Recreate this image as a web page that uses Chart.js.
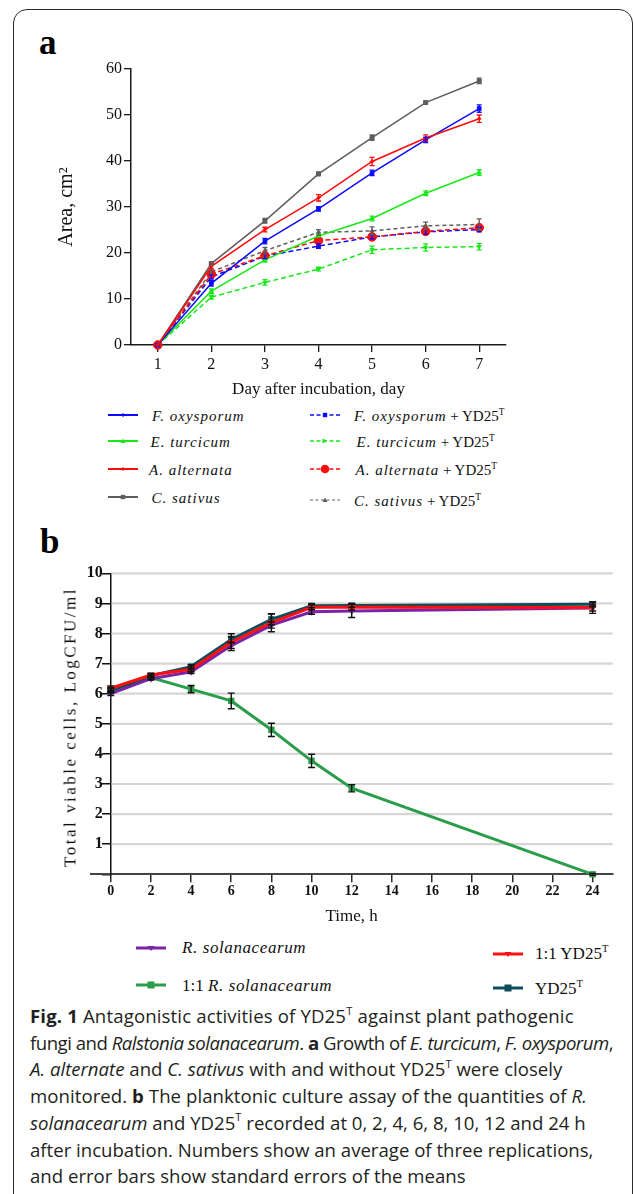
<!DOCTYPE html>
<html>
<head>
<meta charset="utf-8">
<script src="https://cdn.jsdelivr.net/npm/chart.js@4.4.1/dist/chart.umd.min.js"></script>
<style>
html,body{margin:0;padding:0;background:#fff;}
body{width:633px;height:1194px;position:relative;overflow:hidden;}
#frame{position:absolute;left:13px;top:9px;width:620px;height:1240px;border:1.6px solid #2b2b2b;border-radius:14px;box-sizing:border-box;}
.panel{position:absolute;font-family:"Liberation Serif",serif;font-weight:bold;font-size:35px;line-height:1;color:#000;}
canvas{position:absolute;left:0;}
.lgi{position:absolute;white-space:nowrap;font-family:"Liberation Serif",serif;color:#111;line-height:1;}
.sp{font-style:italic;}
.lgi sup,.ytb sup{font-size:0.62em;line-height:0;vertical-align:0;position:relative;top:-0.6em;}
.ytb{position:absolute;white-space:nowrap;font-family:"Liberation Serif",serif;font-size:17px;color:#111;transform:translate(-50%,-50%) rotate(-90deg);letter-spacing:2.5px;line-height:1;}
.cap{position:absolute;left:30px;top:1003px;font-family:"Open Sans",sans-serif;font-size:18.6px;line-height:26.7px;color:#231f20;white-space:nowrap;}
.cap sup{font-size:0.6em;line-height:0;vertical-align:0;position:relative;top:-0.75em;}
</style>
</head>
<body>
<div id="frame"></div>
<div class="panel" style="left:39px;top:25px;">a</div>
<div class="panel" style="left:40px;top:524px;">b</div>
<canvas id="cA" width="633" height="405" style="top:0;width:633px;height:405px;"></canvas>
<canvas id="cB" width="633" height="385" style="top:550px;width:633px;height:385px;"></canvas>
<div class="ytb" style="left:70px;top:727px;">Total viable cells, LogCFU/ml</div>
<div id="legA"></div>
<div id="legB"></div>
<div class="cap">
<div style="letter-spacing:0.14px"><b>Fig. 1</b> Antagonistic activities of YD25<sup>T</sup> against plant pathogenic</div>
<div style="letter-spacing:-0.5px">fungi and <i>Ralstonia solanacearum</i>. <b>a</b> Growth of <i>E. turcicum</i>, <i>F. oxysporum</i>,</div>
<div><i>A. alternate</i> and <i>C. sativus</i> with and without YD25<sup>T</sup> were closely</div>
<div style="letter-spacing:0.06px">monitored. <b>b</b> The planktonic culture assay of the quantities of <i>R.</i></div>
<div><i>solanacearum</i> and YD25<sup>T</sup> recorded at 0, 2, 4, 6, 8, 10, 12 and 24 h</div>
<div>after incubation. Numbers show an average of three replications,</div>
<div>and error bars show standard errors of the means</div>
</div>
<script>
// ===== Panel a: fungal growth (area, cm2) =====
const days = [1, 2, 3, 4, 5, 6, 7];
const areaTicks = [0, 10, 20, 30, 40, 50, 60];
const fOxysporum     = [0, 13.4, 22.6, 29.6, 37.4, 44.6, 51.4];
const eTurcicum      = [0, 11.7, 18.5, 23.7, 27.5, 33.0, 37.5];
const aAlternata     = [0, 17.1, 25.1, 32.0, 39.9, 45.0, 49.2];
const cSativus       = [0, 17.7, 27.0, 37.2, 45.1, 52.7, 57.4];
const fOxysporumYD   = [0, 14.8, 19.3, 21.5, 23.5, 24.6, 25.1];
const eTurcicumYD    = [0, 10.4, 13.6, 16.5, 20.7, 21.2, 21.4];
const aAlternataYD   = [0, 15.4, 19.4, 22.7, 23.5, 24.7, 25.5];
const cSativusYD     = [0, 15.9, 20.5, 24.5, 24.8, 25.9, 26.2];
const fOxysporumErr  = [0, 0.6, 0.6, 0.5, 0.6, 0.6, 0.8];
const eTurcicumErr   = [0, 0.5, 0.5, 0.4, 0.5, 0.5, 0.6];
const aAlternataErr  = [0, 0.5, 0.5, 0.7, 0.9, 0.7, 0.8];
const cSativusErr    = [0, 0.4, 0.5, 0.4, 0.6, 0.3, 0.6];
const fOxysporumYDErr= [0, 0.5, 0.5, 0.5, 0.4, 0.5, 0.5];
const eTurcicumYDErr = [0, 0.4, 0.6, 0.4, 0.8, 0.8, 0.7];
const aAlternataYDErr= [0, 0.5, 0.5, 0.5, 0.4, 0.4, 0.5];
const cSativusYDErr  = [0, 0.4, 0.7, 0.6, 0.9, 0.8, 1.2];

// ===== Panel b: planktonic culture (log CFU/ml) =====
const hours = [0, 2, 4, 6, 8, 10, 12, 24];
const hourTicks = [0, 2, 4, 6, 8, 10, 12, 14, 16, 18, 20, 22, 24];
const cfuTicks = [0, 1, 2, 3, 4, 5, 6, 7, 8, 9, 10];
const rSolanacearum    = [6.00, 6.50, 6.73, 7.60, 8.28, 8.72, 8.75, 8.85];
const rSolanacearumMix = [6.12, 6.54, 6.15, 5.76, 4.80, 3.77, 2.86, 0.00];
const yd25Mix          = [6.18, 6.62, 6.81, 7.71, 8.36, 8.87, 8.87, 8.86];
const yd25             = [6.10, 6.60, 6.90, 7.80, 8.47, 8.92, 8.93, 8.97];
const rSolanacearumErr    = [0.06, 0.05, 0.06, 0.10, 0.10, 0.08, 0.22, 0.10];
const rSolanacearumMixErr = [0.08, 0.05, 0.12, 0.26, 0.22, 0.22, 0.12, 0.03];
const yd25MixErr          = [0.08, 0.05, 0.08, 0.28, 0.30, 0.08, 0.10, 0.19];
const yd25Err             = [0.06, 0.05, 0.06, 0.10, 0.18, 0.06, 0.06, 0.08];

const xy = (xs, ys) => xs.map((x, i) => ({x: x, y: ys[i]}));

const errorBars = {
  id: 'errorBars',
  afterDatasetsDraw(chart) {
    const ctx = chart.ctx, ys = chart.scales.y;
    chart.data.datasets.forEach((ds, i) => {
      if (!ds.errors) return;
      const meta = chart.getDatasetMeta(i);
      ctx.save();
      ctx.setLineDash([]);
      ctx.strokeStyle = ds.errColor || ds.borderColor;
      ctx.lineWidth = ds.errWidth || 1.2;
      meta.data.forEach((pt, j) => {
        const e = ds.errors[j];
        if (!e) return;
        const v = ds.data[j].y;
        const y1 = ys.getPixelForValue(v + e), y2 = ys.getPixelForValue(v - e);
        const c = ds.cap || 2.5, x = pt.x;
        ctx.beginPath();
        ctx.moveTo(x, y1); ctx.lineTo(x, y2);
        ctx.moveTo(x - c, y1); ctx.lineTo(x + c, y1);
        ctx.moveTo(x - c, y2); ctx.lineTo(x + c, y2);
        ctx.stroke();
      });
      ctx.restore();
    });
  }
};

const hGrid = {
  id: 'hGrid',
  beforeDatasetsDraw(chart) {
    const {ctx, scales: {x, y}, chartArea} = chart;
    const x0 = x.getPixelForValue(0) + 1, x1 = chartArea.right;
    ctx.save();
    ctx.strokeStyle = '#d6d6d6';
    ctx.lineWidth = 2.2;
    y.ticks.forEach(t => {
      if (t.value <= 0) return;
      const py = y.getPixelForValue(t.value);
      ctx.beginPath(); ctx.moveTo(x0, py); ctx.lineTo(x1, py); ctx.stroke();
    });
    ctx.restore();
  }
};

const BLUE = '#0a0aff', GREEN = '#18e818', RED = '#ff0a0a', GRAY = '#5e5e5e';
function dsA(data, err, color, dash, style, r, rot) {
  return {
    data: xy(days, data), errors: err, borderColor: color, backgroundColor: color,
    borderWidth: 1.5, borderDash: dash, pointStyle: style, pointRadius: r, pointRotation: rot || 0,
    pointBorderWidth: 1, pointBorderColor: color, pointBackgroundColor: color, cap: 2.5, errWidth: 1.3,
    tension: 0, clip: false
  };
}
const serif = 'Liberation Serif';

new Chart(document.getElementById('cA'), {
  type: 'line',
  data: {
    datasets: [
      dsA(aAlternata, aAlternataErr, RED, [], 'rectRot', 1.8),
      dsA(fOxysporum, fOxysporumErr, BLUE, [], 'rect', 2.6),
      dsA(cSativus, cSativusErr, GRAY, [], 'rect', 2.8),
      dsA(eTurcicum, eTurcicumErr, GREEN, [], 'triangle', 2.5),
      dsA(aAlternataYD, aAlternataYDErr, RED, [5, 3], 'circle', 4.3),
      dsA(fOxysporumYD, fOxysporumYDErr, BLUE, [5, 3], 'rect', 2.6),
      dsA(cSativusYD, cSativusYDErr, GRAY, [4, 3], 'triangle', 2.3),
      dsA(eTurcicumYD, eTurcicumYDErr, GREEN, [5, 3], 'triangle', 2.3, 180)
    ]
  },
  options: {
    responsive: false, animation: false, devicePixelRatio: 1,
    layout: {padding: {left: 0, top: 69, right: 127, bottom: 0}},
    plugins: {legend: {display: false}, tooltip: {enabled: false}},
    scales: {
      x: {
        type: 'linear', min: 0.5, max: 7.5,
        afterBuildTicks: s => { s.ticks = days.map(v => ({value: v})); },
        afterFit: s => { s.height = 60; },
        grid: {drawOnChartArea: false, drawTicks: true, tickLength: 7, color: '#1a1a1a', lineWidth: 1.3},
        border: {display: true, color: '#1a1a1a', width: 1.5},
        ticks: {color: '#111', font: {family: serif, size: 16}, padding: 3},
        title: {display: true, text: 'Day after incubation, day', color: '#111', font: {family: serif, size: 17}, padding: {top: 0, bottom: 5}}
      },
      y: {
        type: 'linear', min: 0, max: 60,
        afterBuildTicks: s => { s.ticks = areaTicks.map(v => ({value: v})); },
        afterFit: s => { s.width = 131; },
        grid: {drawOnChartArea: false, drawTicks: true, tickLength: 7, color: '#1a1a1a', lineWidth: 1.3},
        border: {display: true, color: '#1a1a1a', width: 1.5},
        ticks: {color: '#111', font: {family: serif, size: 16}, padding: 2},
        title: {display: true, text: 'Area, cm\u00B2', color: '#111', font: {family: serif, size: 20}, padding: {top: 55, bottom: 0}}
      }
    }
  },
  plugins: [errorBars]
});

const PURPLE = '#7a22a8', DGREEN = '#2a9d4a', BRED = '#ff1010', TEAL = '#0e4d5c';
function dsB(data, err, color, style, r, rot) {
  return {
    data: xy(hours, data), errors: err, borderColor: color, backgroundColor: color,
    borderWidth: 3, pointStyle: style, pointRadius: r, pointRotation: rot || 0,
    pointBorderWidth: 0, pointBackgroundColor: color, errColor: '#111', errWidth: 1.4, cap: 3.5,
    tension: 0, clip: false
  };
}

new Chart(document.getElementById('cB'), {
  type: 'line',
  data: {
    datasets: [
      dsB(yd25Mix, yd25MixErr, BRED, 'triangle', 4.5, 180),
      dsB(yd25, yd25Err, TEAL, 'rect', 4.5),
      dsB(rSolanacearum, rSolanacearumErr, PURPLE, 'triangle', 4, 180),
      dsB(rSolanacearumMix, rSolanacearumMixErr, DGREEN, 'rect', 4.5)
    ]
  },
  options: {
    responsive: false, animation: false, devicePixelRatio: 1,
    layout: {padding: {left: 90.7, top: 23.3, right: 20.3, bottom: 0}},
    plugins: {legend: {display: false}, tooltip: {enabled: false}},
    scales: {
      x: {
        type: 'linear', min: -1, max: 25,
        afterBuildTicks: s => { s.ticks = hourTicks.map(v => ({value: v})); },
        afterFit: s => { s.height = 60.7; },
        grid: {drawOnChartArea: false, drawTicks: true, tickLength: 8, color: '#2a2a2a', lineWidth: 1.5},
        border: {display: true, color: '#444', width: 2},
        ticks: {color: '#111', font: {family: serif, size: 14, weight: 'bold'}, padding: 1},
        title: {display: true, text: 'Time, h', color: '#111', font: {family: serif, size: 17}, padding: {top: 0, bottom: 8}}
      },
      y: {
        type: 'linear', min: 0, max: 10, position: {x: 0},
        afterBuildTicks: s => { s.ticks = cfuTicks.map(v => ({value: v})); },
        grid: {drawOnChartArea: false, drawTicks: true, tickLength: 8, color: '#111', lineWidth: 1.5},
        border: {display: true, color: '#111', width: 1.5},
        ticks: {color: '#111', font: {family: serif, size: 16, weight: 'bold'}, padding: 1,
                callback: v => (v === 0 ? '' : String(v) + '\u00A0\u00A0')},
        title: {display: false}
      }
    }
  },
  plugins: [hGrid, errorBars]
});

// ===== Legends (HTML text with drawn samples) =====
function sample(color, dash, marker, lw) {
  const w = 30, h = 14, cy = 7, cx = 15;
  let m = '';
  if (marker === 'rect') m = `<rect x="${cx-2.2}" y="${cy-2.2}" width="4.4" height="4.4" fill="${color}"/>`;
  else if (marker === 'rectB') m = `<rect x="${cx-3.5}" y="${cy-3.5}" width="7" height="7" fill="${color}"/>`;
  else if (marker === 'tri') m = `<polygon points="${cx-2.5},${cy+2} ${cx+2.5},${cy+2} ${cx},${cy-2.5}" fill="${color}"/>`;
  else if (marker === 'triR') m = `<polygon points="${cx-2.5},${cy-2.5} ${cx-2.5},${cy+2.5} ${cx+2.5},${cy}" fill="${color}"/>`;
  else if (marker === 'triD') m = `<polygon points="${cx-3.5},${cy-2} ${cx+3.5},${cy-2} ${cx},${cy+3}" fill="${color}"/>`;
  else if (marker === 'dia') m = `<polygon points="${cx-2},${cy} ${cx},${cy-2} ${cx+2},${cy} ${cx},${cy+2}" fill="${color}"/>`;
  else if (marker === 'circ') m = `<circle cx="${cx}" cy="${cy}" r="4.3" fill="${color}"/>`;
  return `<svg width="${w}" height="${h}" style="position:absolute;left:0;top:${-cy}px;overflow:visible"><line x1="0" y1="${cy}" x2="${w}" y2="${cy}" stroke="${color}" stroke-width="${lw}" ${dash ? `stroke-dasharray="${dash}"` : ''}/>${m}</svg>`;
}
function item(parent, sx, sy, tx, ty, color, dash, marker, lw, html, size) {
  const s = document.createElement('div');
  s.style.cssText = `position:absolute;left:${sx}px;top:${sy}px;`;
  s.innerHTML = sample(color, dash, marker, lw);
  parent.appendChild(s);
  const t = document.createElement('div');
  t.className = 'lgi';
  t.style.cssText = `left:${tx}px;top:${ty - size / 2}px;font-size:${size}px;`;
  t.innerHTML = html;
  parent.appendChild(t);
}
const legA = document.getElementById('legA');
const sp = (name) => `<span class="sp" style="letter-spacing:1px">${name}</span>`;
const yd = ' + YD25<sup>T</sup>';
item(legA, 108, 415, 152, 416, BLUE, '', 'dia', 2, sp('F. oxysporum'), 15);
item(legA, 108, 441, 150.5, 442, GREEN, '', 'tri', 2, sp('E. turcicum'), 15);
item(legA, 108, 469, 149, 470, RED, '', 'dia', 2, sp('A. alternata'), 15);
item(legA, 108, 497, 151.5, 498, GRAY, '', 'rect', 2, sp('C. sativus'), 15);
item(legA, 310, 415, 354, 416, BLUE, '4,2.5', 'rect', 1.6, sp('F. oxysporum') + yd, 15);
item(legA, 310, 441, 356.5, 442, GREEN, '4,2.5', 'triR', 1.6, sp('E. turcicum') + yd, 15);
item(legA, 310, 469, 355.5, 470, RED, '4,2.5', 'circ', 1.6, sp('A. alternata') + yd, 15);
item(legA, 310, 500, 354, 501, GRAY, '3,2.5', 'tri', 1.2, sp('C. sativus') + yd, 15);

const legB = document.getElementById('legB');
item(legB, 136, 948, 182, 947, PURPLE, '', 'triD', 3, '<span class="sp" style="letter-spacing:0.6px">R. solanacearum</span>', 17);
item(legB, 136, 985, 182, 985, DGREEN, '', 'rectB', 3, '1:1 <span class="sp" style="letter-spacing:0.6px">R. solanacearum</span>', 17);
item(legB, 493, 953.5, 535, 953, BRED, '', 'triD', 3, '1:1 YD25<sup>T</sup>', 17);
item(legB, 493, 988, 535, 988, TEAL, '', 'rectB', 3, 'YD25<sup>T</sup>', 17);
</script>
</body>
</html>
